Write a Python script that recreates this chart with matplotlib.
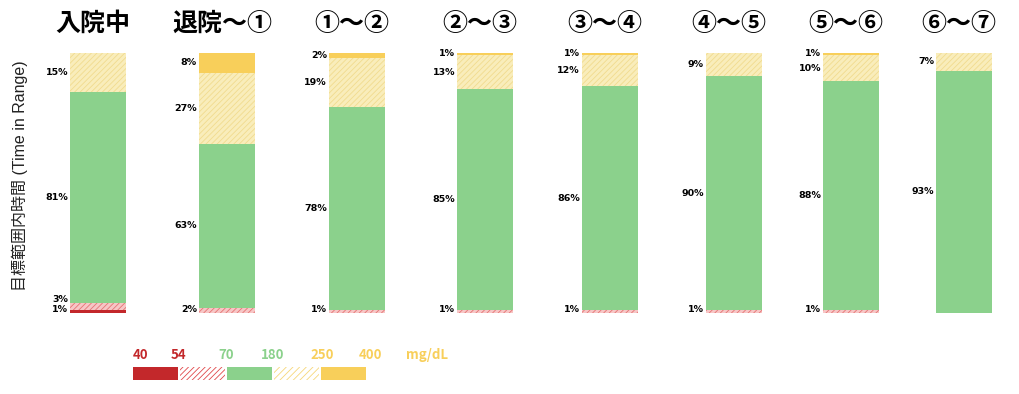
import matplotlib
matplotlib.use('Agg')
import matplotlib.pyplot as plt
from matplotlib.patches import Rectangle

plt.rcParams['font.family'] = ['Noto Sans CJK JP', 'DejaVu Sans']
plt.rcParams['hatch.linewidth'] = 0.6

# data: share of time (%) per glucose band, bottom to top
periods = ['入院中', '退院〜①', '①〜②', '②〜③', '③〜④', '④〜⑤', '⑤〜⑥', '⑥〜⑦']
very_low = [1, 0, 0, 0, 0, 0, 0, 0]      # < 54
low = [3, 2, 1, 1, 1, 1, 1, 0]           # 54-70
in_range = [81, 63, 78, 85, 86, 90, 88, 93]
high = [15, 27, 19, 13, 12, 9, 10, 7]    # 180-250
very_high = [0, 8, 2, 1, 1, 0, 1, 0]     # > 250
thresholds = ['40', '54', '70', '180', '250', '400', 'mg/dL']

# layout in pixels (the panels were pasted side by side, spacing is uneven)
W, H = 1020, 394
centers = [98, 227, 357, 485, 610, 734, 851, 964]
bar_w = 56

RED = '#C3282B'
GREEN = '#8BD18C'
YELLOW = '#F8CF5A'
bands = [
    (very_low, dict(color=RED)),
    (low, dict(facecolor='#F7C6C6', hatch='//////', edgecolor='#E57473')),
    (in_range, dict(color=GREEN)),
    (high, dict(facecolor='#F9EDBB', hatch='//////', edgecolor='#F1DB8E')),
    (very_high, dict(color=YELLOW)),
]

fig = plt.figure(figsize=(W / 100, H / 100), dpi=100)

ov = fig.add_axes([0, 0, 1, 1])
ov.set_xlim(0, W)
ov.set_ylim(H, 0)
ov.axis('off')

ax = fig.add_axes([0, (H - 313) / H, 1, (313 - 52.5) / H])
ax.set_xlim(0, W)
ax.set_ylim(0, 100)
ax.axis('off')

bottom = [0] * len(periods)
for vals, style in bands:
    ax.bar(centers, vals, bar_w, bottom=bottom, linewidth=0, **style)
    bottom = [b + v for b, v in zip(bottom, vals)]

# percentage labels left of each bar, nudged apart when crowded
for i, c in enumerate(centers):
    base = 0
    prev = -10
    for vals, _ in bands:
        v = vals[i]
        if v > 0:
            y = max(base + v / 2, prev + 3.8, 1.2)
            ax.text(c - bar_w / 2 - 2, y, f'{v}%', ha='right', va='center',
                    fontsize=6.8, fontweight='bold',
                    family=['Liberation Sans Narrow', 'DejaVu Sans'])
            prev = y
        base += v

for c, name in zip(centers, periods):
    ov.text(c - 5, 24, name, ha='center', va='center', fontsize=18,
            fontweight='bold')

ov.text(20, 176, '目標範囲内時間 (Time in Range)', rotation=90, ha='center',
        va='center', fontsize=11.5, color='#222222',
        family=['Liberation Sans', 'Noto Sans CJK JP'])

# colour key at the bottom
key_x = [133 + 47 * k for k in range(5)]
key_styles = [
    dict(facecolor=RED, edgecolor='none'),
    dict(facecolor='white', hatch='//////', edgecolor='#E0484A'),
    dict(facecolor=GREEN, edgecolor='none'),
    dict(facecolor='white', hatch='/////', edgecolor='#F6D779'),
    dict(facecolor=YELLOW, edgecolor='none'),
]
for x, st in zip(key_x, key_styles):
    ov.add_patch(Rectangle((x, 367), 45, 13, linewidth=0, **st))

label_x = [141, 178, 226, 273, 322, 371, 427]
label_c = [RED, RED, GREEN, GREEN, YELLOW, YELLOW, YELLOW]
for x, t, col in zip(label_x, thresholds, label_c):
    ov.text(x, 355, t, ha='center', va='center', fontsize=9.5, color=col,
            fontweight='bold')

fig.savefig('out.png', dpi=100)
